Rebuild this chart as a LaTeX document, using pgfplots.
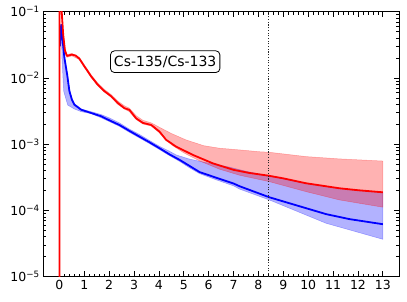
\documentclass[border=0pt]{standalone}
\usepackage{fontspec}
\setmainfont{DejaVu Sans}
\usepackage{pgfplots}
\pgfplotsset{compat=1.18}
\begin{document}
\begin{tikzpicture}
\begin{axis}[
  at={(0,0)}, anchor=south west,
  scale only axis, width=355.7pt, height=265pt,
  xmin=-0.65, xmax=13.65,
  ymode=log, ymin=1e-5, ymax=1e-1,
  xtick={0,1,2,3,4,5,6,7,8,9,10,11,12,13},
  xticklabels={0,1,2,3,4,5,6,7,8,9,10,11,12,13},
  minor x tick num=4,
  ytick={1e-5,1e-4,1e-3,1e-2,1e-1},
  yticklabels={10\textsuperscript{−5},10\textsuperscript{−4},10\textsuperscript{−3},10\textsuperscript{−2},10\textsuperscript{−1}},
  minor ytick={2e-5,3e-5,4e-5,5e-5,6e-5,7e-5,8e-5,9e-5,2e-4,3e-4,4e-4,5e-4,6e-4,7e-4,8e-4,9e-4,2e-3,3e-3,4e-3,5e-3,6e-3,7e-3,8e-3,9e-3,2e-2,3e-2,4e-2,5e-2,6e-2,7e-2,8e-2,9e-2},
  tick pos=both, tick align=inside,
  major tick length=5.5pt, minor tick length=3pt,
  every tick/.style={black, line width=0.7pt},
  axis line style={line width=1pt},
  ticklabel style={font=\fontsize{12.5}{15}\selectfont},
  clip=true,
]
% blue band
\addplot[fill=blue, fill opacity=0.3, draw=blue, draw opacity=0.3, line width=0.5pt] coordinates {
(0.07,0.064) (0.13,0.037) (0.2,0.021) (0.31,0.0118) (0.4,0.0068) (0.5,0.005) (0.6,0.0041) (0.87,0.0034) (1.27,0.0031) (1.68,0.0028) (2.0,0.0025) (2.41,0.0021) (2.8,0.0017) (3.22,0.0014) (3.6,0.00115) (4.02,0.00093) (4.43,0.00078) (4.69,0.00069) (5.2,0.0006) (5.75,0.00054) (6.84,0.00045) (7.5,0.00039) (8.44,0.00033) (9.92,0.000255) (11.26,0.000214) (13,0.000186)
(13,3.67e-5) (11.9,4.8e-5) (10.72,6.4e-5) (9.92,8.5e-5) (8.44,0.000144) (7.24,0.00021) (7.0,0.000235) (6.3,0.00029) (5.63,0.00036) (5.23,0.00044) (4.83,0.00055) (4.43,0.00067) (4.02,0.00083) (3.6,0.00103) (3.22,0.00124) (2.8,0.00152) (2.41,0.00186) (2.0,0.0022) (1.68,0.0025) (1.27,0.0029) (0.87,0.0031) (0.6,0.0034) (0.33,0.0039) (0.17,0.0063) (0.1,0.02) (0.07,0.06)
} --cycle;
% blue line
\addplot[blue, line width=1.8pt, line join=round] coordinates {
(0.02,0.03) (0.07,0.0637) (0.13,0.0357) (0.2,0.02) (0.31,0.0112) (0.40,0.0063) (0.5,0.0047) (0.6,0.00395) (0.87,0.00332) (1.27,0.00296) (1.68,0.00264) (2.0,0.0023) (2.41,0.00195) (2.8,0.0016) (3.22,0.0013) (3.6,0.00108) (4.02,0.00087) (4.43,0.0007) (4.83,0.00058) (5.23,0.00047) (5.63,0.00038) (6.3,0.000312) (7.0,0.000255) (7.24,0.000232) (8.44,0.000158) (9.92,0.000108) (10.72,8.8e-5) (11.66,7.4e-5) (13,6.2e-5)
};
% red band
\addplot[fill=red, fill opacity=0.3, draw=red, draw opacity=0.3, line width=0.5pt] coordinates {
(0.09,0.1) (0.15,0.05) (0.22,0.028) (0.3,0.0225) (0.5,0.0235) (0.8,0.0205) (1.0,0.0158) (1.27,0.0112) (1.54,0.0084) (1.81,0.0067) (2.08,0.0056) (2.34,0.0045) (2.61,0.0038) (2.81,0.0035) (3.08,0.0027) (3.35,0.0023) (3.69,0.0021) (4.02,0.0018) (4.5,0.00145) (5.09,0.00116) (5.8,0.00095) (6.43,0.00087) (7.24,0.00082) (8.04,0.00077) (8.44,0.000755) (9.92,0.00065) (11.26,0.0006) (13,0.000557)
(13,0.000112) (11.26,0.000144) (9.92,0.000192) (8.44,0.000272) (7.24,0.00034) (6.43,0.00042) (5.63,0.00056) (5.0,0.00074) (4.5,0.00098) (4.02,0.00148) (3.69,0.00188) (3.35,0.00202) (3.08,0.00236) (2.81,0.0031) (2.61,0.0034) (2.34,0.0040) (2.08,0.0051) (1.81,0.0061) (1.54,0.0076) (1.27,0.0102) (1.0,0.0145) (0.8,0.019) (0.5,0.0215) (0.3,0.0205) (0.22,0.024) (0.15,0.04) (0.09,0.09)
} --cycle;
% red line
\addplot[red, line width=1.8pt, line join=round] coordinates {
(0,1e-6) (0,0.3) (0.04,0.5) (0.09,0.1) (0.15,0.045) (0.22,0.026) (0.3,0.0215) (0.4,0.022) (0.5,0.0225) (0.65,0.0218) (0.8,0.0195) (1.0,0.015) (1.27,0.0106) (1.54,0.0079) (1.81,0.0063) (2.08,0.0053) (2.34,0.0042) (2.61,0.0035) (2.81,0.0033) (3.08,0.00246) (3.35,0.0021) (3.69,0.00195) (4.02,0.00155) (4.29,0.00116) (4.69,0.00092) (5.36,0.00069) (6.16,0.000515) (7.0,0.00041) (7.6,0.00037) (8.4,0.000335) (8.98,0.000306) (9.92,0.000257) (11.26,0.000216) (12,0.000202) (13,0.000188)
};
% dotted vertical line
\addplot[black!85, dash pattern=on 1.1pt off 1.6pt, line width=1.3pt] coordinates {(8.4,1e-5) (8.4,1e-1)};
\node[draw=black, line width=0.8pt, rounded corners=4pt, fill=white, inner xsep=3.5pt, inner ysep=5pt,
  font=\fontsize{14}{16}\selectfont] at (axis cs:4.25,0.0176) {Cs-135/Cs-133};
\end{axis}
\pgfresetboundingbox
\useasboundingbox (-43.3pt,-25.3pt) rectangle (363.7pt,276.7pt);
\end{tikzpicture}
\end{document}
